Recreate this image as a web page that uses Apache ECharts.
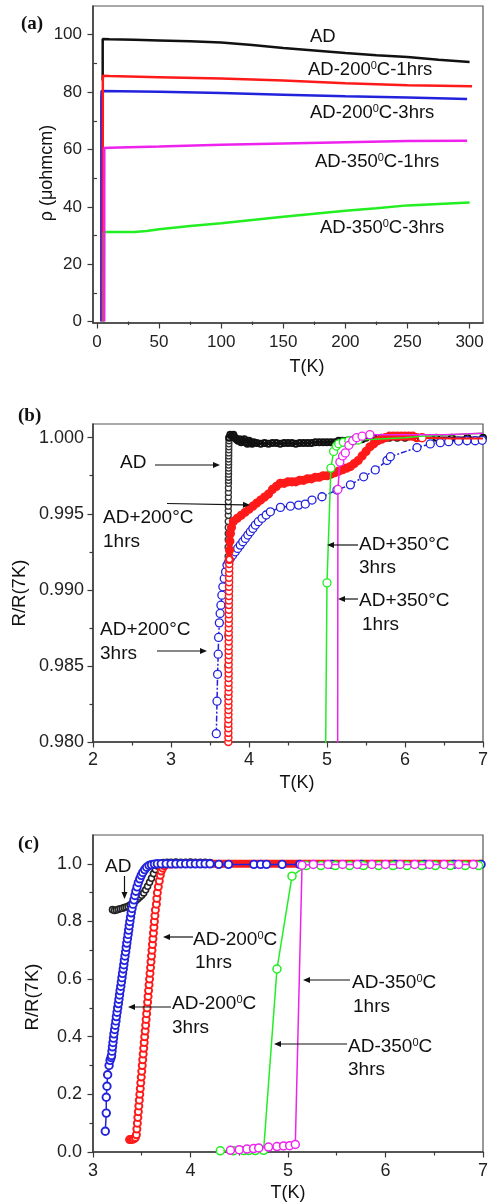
<!DOCTYPE html>
<html>
<head>
<meta charset="utf-8">
<script src="https://cdn.jsdelivr.net/npm/echarts@6/dist/echarts.min.js"></script>
<style>html,body{margin:0;padding:0;background:#fff}#c{width:491px;height:1203px}</style>
</head>
<body>
<div id="c"></div>
<script>
// ---------- Panel (a): rho vs T ----------
const aXTicks = [0, 50, 100, 150, 200, 250, 300];
const aXMinor = [25, 75, 125, 175, 225, 275];
const aYTicks = [0, 20, 40, 60, 80, 100];
const aYMinor = [10, 30, 50, 70, 90];
const a_AD = [[4.6,84],[4.6,98.5],[10,98.4],[30,98.2],[50,98.0],[75,97.7],[100,97.3],[125,96.4],[150,95.4],[175,94.5],[200,93.6],[225,92.8],[250,92.2],[275,91.3],[300,90.5]];
const a_200_3 = [[3.5,0],[3.5,78],[3.7,80.4],[5,80.5],[50,80.1],[100,79.7],[150,79.1],[200,78.5],[250,78.1],[298,77.6]];
const a_200_1 = [[4.6,0],[4.7,84],[4.8,85.7],[10,85.6],[50,85.2],[100,84.7],[150,84.0],[200,83.1],[250,82.4],[302,82.0]];
const a_350_3 = [[5.5,0],[5.6,31.2],[10,31.2],[30,31.2],[40,31.6],[50,32.2],[75,33.3],[100,34.3],[125,35.4],[150,36.5],[175,37.6],[200,38.6],[225,39.5],[250,40.5],[275,41.0],[300,41.5]];
const a_350_1 = [[5.8,0],[5.9,60.5],[10,60.6],[50,61.0],[100,61.6],[150,62.1],[200,62.5],[250,62.9],[298,63.0]];

// ---------- Panel (b): R/R(7K) zoom ----------
const bXTicks = [2, 3, 4, 5, 6, 7];
const bXMinor = [2.5, 3.5, 4.5, 5.5, 6.5];
const bYTicks = [0.980, 0.985, 0.990, 0.995, 1.000];
const bYMinor = [0.9825, 0.9875, 0.9925, 0.9975];
const b_AD_col = [[3.730,0.9810],[3.730,0.9830],[3.730,0.9850],[3.730,0.9870],[3.730,0.9890],[3.731,0.9905],[3.731,0.9915],[3.732,0.9922],[3.732,0.9928],[3.733,0.9933],[3.733,0.9937],[3.734,0.9941],[3.734,0.9945],[3.734,0.9949],[3.735,0.9952],[3.735,0.9955],[3.735,0.9958],[3.736,0.9961],[3.736,0.9964],[3.736,0.9967],[3.737,0.9970],[3.737,0.9972],[3.737,0.9974],[3.738,0.9976],[3.738,0.9978],[3.738,0.9980],[3.739,0.9982],[3.739,0.9984],[3.739,0.9986],[3.740,0.9988],[3.740,0.9990],[3.741,0.9992],[3.741,0.9994],[3.742,0.9996],[3.743,0.9998],[3.745,1.0000]];
const b_AD = [[3.745,1.0000],[3.76,1.0002],[3.78,1.0001],[3.80,1.0002],[3.82,1.0000],[3.84,0.9999],[3.86,0.9998],[3.88,0.9999],[3.90,0.9997],[3.92,0.9998],[3.94,0.9999],[3.96,0.9997],[3.98,0.9996],[4.00,0.9998],[4.02,0.9997],[4.04,0.9996],[4.06,0.9997],
  [4.10,0.99965],[4.15,0.9996],[4.20,0.99965],[4.25,0.9996],[4.30,0.99965],[4.35,0.99965],[4.40,0.9996],[4.45,0.99965],[4.50,0.99965],[4.55,0.99965],[4.60,0.9996],[4.65,0.99965],[4.70,0.99965],[4.75,0.99965],[4.80,0.99965],[4.85,0.9997],[4.90,0.9997],[4.95,0.9997],[5.00,0.9997],[5.05,0.9997],[5.10,0.9997],[5.15,0.9998],[5.20,0.9998],[5.25,0.9998],[5.30,0.9998],[5.35,0.9999],[5.40,0.9999],[5.45,0.9999],[5.50,1.0000],[5.60,1.0000],[5.70,1.0000],[5.80,1.0000],[5.90,1.0000],[6.00,1.0000],[6.20,1.0000],[6.40,1.0000],[6.60,1.0000],[6.80,1.0000],[7.00,1.0000]];
const b_200_3 = [[3.581,0.98055],[3.590,0.98268],[3.597,0.98445],[3.605,0.98577],[3.610,0.98687],[3.620,0.98783],[3.630,0.98845],[3.640,0.98899],[3.652,0.98965],[3.665,0.9902],[3.683,0.99075],[3.700,0.99118],[3.718,0.99163],[3.740,0.99185],[3.760,0.99206],[3.790,0.99228],[3.824,0.9925],[3.855,0.99272],[3.888,0.99294],[3.920,0.99316],[3.953,0.99338],[3.985,0.9936],[4.017,0.99382],[4.050,0.99404],[4.081,0.99426],[4.120,0.99448],[4.167,0.9947],[4.220,0.99492],[4.274,0.99513],[4.403,0.99542],[4.531,0.9955],[4.636,0.99557],[4.722,0.99564],[4.808,0.9959],[4.936,0.99612],[5.128,0.99656],[5.300,0.9969],[5.470,0.99743],[5.619,0.99788],[5.769,0.99850],[5.812,0.99875],[6.154,0.99935],[6.324,0.99959],[6.453,0.99967],[6.560,0.99974],[6.687,0.99978],[6.795,0.9998],[6.900,0.9998],[6.990,0.99983]];
const b_200_1_col = [[3.735,0.9800],[3.736,0.9803],[3.735,0.9806],[3.736,0.9809],[3.735,0.9812],[3.736,0.9815],[3.736,0.9818],[3.737,0.9821],[3.736,0.9824],[3.737,0.9827],[3.737,0.9830],[3.738,0.9833],[3.737,0.9836],[3.738,0.9839],[3.738,0.9842],[3.739,0.9845],[3.738,0.9848],[3.739,0.9851],[3.739,0.9854],[3.740,0.9857],[3.739,0.9860],[3.740,0.9863],[3.740,0.9866],[3.741,0.9869],[3.740,0.9872],[3.741,0.9875],[3.741,0.9878],[3.742,0.9881],[3.741,0.9884],[3.742,0.9887],[3.742,0.9890],[3.743,0.9893],[3.743,0.9896],[3.744,0.9899],[3.744,0.9902],[3.745,0.9905],[3.745,0.9908],[3.746,0.9911],[3.746,0.9914],[3.747,0.9917],[3.748,0.9920]];
const b_200_1 = [[3.748,0.9920],[3.750,0.9926],[3.755,0.9932],[3.762,0.9937],[3.775,0.9941],[3.80,0.9945],
  [3.85,0.9947],[3.90,0.9949],[3.95,0.9951],[4.00,0.9953],[4.05,0.9955],[4.10,0.9957],[4.15,0.9959],[4.20,0.9961],[4.25,0.9963],[4.30,0.9966],[4.35,0.9968],[4.40,0.9970],[4.45,0.9970],[4.50,0.9971],[4.55,0.9971],[4.60,0.9971],[4.65,0.9972],[4.70,0.9972],[4.75,0.9973],[4.80,0.9973],[4.85,0.9974],[4.90,0.9974],[4.95,0.9975],[5.00,0.9975],[5.05,0.9976],[5.10,0.9977],[5.15,0.9978],[5.20,0.9979],[5.25,0.9980],[5.30,0.9981],[5.35,0.9983],[5.40,0.9985],[5.45,0.9988],[5.50,0.9991],[5.55,0.9994],[5.60,0.9996],[5.65,0.9998],[5.70,0.9999],[5.75,1.0000],[5.80,1.0001],[5.85,1.0001],[5.90,1.0001],[5.95,1.0001],[6.00,1.0001],[6.05,1.0001],[6.10,1.0001],[6.15,1.0000]];
const b_200_1_end = [[6.22,1.0000]];
const b_200_1_tail = [[6.15,1.0000],[6.22,1.0000],[6.6,0.99995],[7.0,0.99995]];
const b_350_3 = [[4.975,0.975],[5.0,0.99046],[5.05,0.9980],[5.085,0.9991],[5.12,0.99945],[5.15,0.9996],[5.21,0.9997],[5.28,0.9998],[5.34,0.9998],[5.40,0.99985]];
const b_350_3_tail = [[5.40,0.99985],[5.6,0.9999],[5.8,0.99995],[6.0,1.0],[6.2,1.0001],[6.4,1.00015],[6.6,1.0002],[6.8,1.00025],[7.0,1.0003]];
const b_350_1 = [[5.136,0.975],[5.14,0.9966],[5.165,0.9984],[5.20,0.9988],[5.235,0.9990],[5.28,0.9995],[5.33,0.9998],[5.38,1.0000],[5.45,1.0001],[5.55,1.0002]];
const b_350_1_tail = [[5.55,1.0002],[6.0,1.0002],[6.5,1.0002],[7.0,1.0003]];

// ---------- Panel (c): R/R(7K) full ----------
const cXTicks = [3, 4, 5, 6, 7];
const cXMinor = [3.5, 4.5, 5.5, 6.5];
const cYTicks = [0, 0.2, 0.4, 0.6, 0.8, 1.0];
const cYMinor = [0.1, 0.3, 0.5, 0.7, 0.9];
const c_AD = [[3.20,0.841],[3.22,0.838],[3.24,0.840],[3.26,0.842],[3.28,0.844],[3.30,0.846],[3.32,0.848],[3.34,0.850],[3.36,0.853],[3.38,0.857],[3.40,0.862],[3.42,0.867],[3.44,0.873],[3.46,0.879],[3.48,0.885],[3.50,0.891],[3.52,0.899],[3.54,0.910],[3.56,0.922],[3.58,0.936],[3.60,0.950],[3.62,0.966],[3.64,0.980],[3.66,0.992],[3.68,1.000],[3.72,1.004],[3.76,1.005],[3.80,1.005],[3.85,1.006],[3.90,1.005],[3.95,1.005],[4.00,1.006],[4.05,1.005],[4.10,1.005],[4.15,1.005],[4.20,1.004]];
const c_200_1 = [[3.375,0.043],[3.39,0.043],[3.405,0.044],[3.42,0.046],[3.435,0.050],[3.445,0.060],[3.45,0.080],[3.455,0.100],[3.46,0.120],[3.465,0.140],[3.47,0.160],[3.475,0.180],[3.48,0.200],[3.485,0.220],[3.49,0.240],[3.495,0.260],[3.50,0.280],[3.505,0.300],[3.51,0.320],[3.515,0.340],[3.52,0.360],[3.525,0.380],[3.53,0.400],[3.535,0.420],[3.54,0.440],[3.545,0.460],[3.55,0.480],[3.555,0.500],[3.56,0.520],[3.565,0.540],[3.57,0.560],[3.575,0.580],[3.58,0.600],[3.585,0.620],[3.59,0.640],[3.595,0.660],[3.60,0.680],[3.605,0.700],[3.61,0.720],[3.615,0.740],[3.62,0.760],[3.625,0.780],[3.63,0.800],[3.635,0.820],[3.64,0.840],[3.65,0.860],[3.655,0.880],[3.66,0.900],[3.67,0.920],[3.68,0.940],[3.69,0.960],[3.70,0.975],[3.715,0.985],[3.73,0.993],[3.75,0.998]];
const c_200_1_plateau = [[3.75,0.998],[4.0,1.0],[4.5,1.0],[5.0,1.0],[5.5,1.0],[6.0,1.0],[6.5,1.0],[7.0,1.0]];
const c_200_3 = [[3.126,0.072],[3.136,0.135],[3.136,0.190],[3.143,0.228],[3.150,0.268],[3.165,0.300],[3.175,0.318],[3.185,0.328],[3.19,0.335],[3.195,0.350],[3.20,0.365],[3.205,0.380],[3.21,0.395],[3.215,0.410],[3.222,0.425],[3.228,0.440],[3.235,0.455],[3.24,0.470],[3.247,0.485],[3.253,0.500],[3.26,0.515],[3.266,0.530],[3.272,0.545],[3.278,0.560],[3.285,0.575],[3.291,0.590],[3.297,0.605],[3.303,0.620],[3.31,0.635],[3.316,0.650],[3.322,0.665],[3.328,0.680],[3.335,0.695],[3.341,0.710],[3.347,0.725],[3.353,0.740],[3.36,0.755],[3.366,0.770],[3.372,0.785],[3.378,0.800],[3.385,0.815],[3.392,0.830],[3.40,0.845],[3.41,0.860],[3.42,0.875],[3.43,0.890],[3.44,0.905],[3.452,0.920],[3.465,0.935],[3.48,0.948],[3.495,0.960],[3.51,0.970],[3.53,0.980],[3.55,0.988],[3.575,0.994],[3.60,0.997],[3.63,0.999],[3.66,1.0],[3.70,1.0],[3.75,1.0],[3.80,1.0],[3.85,1.0],[3.90,1.0],[3.95,1.0],[4.00,1.0],[4.05,1.0],[4.10,1.0],[4.15,1.0],[4.20,1.0],[4.29,0.998],[4.39,0.998],[4.65,0.998],[4.72,0.998],[4.78,0.998],[4.94,0.998],[5.12,0.998],[5.45,0.998],[5.75,0.998],[6.10,0.998],[6.40,0.998],[6.70,0.998],[6.98,0.998]];
const c_350_3 = [[4.306,0.004],[4.44,0.004],[4.545,0.005],[4.596,0.005],[4.665,0.005],[4.75,0.006],[4.887,0.635],[5.041,0.957],[5.188,0.994],[5.338,0.994],[5.485,0.994],[5.632,0.994],[5.775,0.994],[5.929,0.994],[6.077,0.994],[6.22,0.994],[6.374,0.994],[6.511,0.994],[6.665,0.994],[6.818,0.994],[6.955,0.994]];
const c_350_1 = [[4.41,0.006],[4.50,0.008],[4.58,0.010],[4.647,0.012],[4.70,0.014],[4.80,0.017],[4.887,0.019],[4.955,0.021],[5.017,0.022],[5.075,0.026],[5.144,0.995],[5.26,0.998],[5.41,0.998],[5.56,0.998],[5.71,0.998],[5.86,0.998],[6.00,0.998],[6.15,0.998],[6.30,0.998],[6.45,0.998],[6.60,0.998],[6.75,0.998],[6.90,0.998]];

// ---------- build ----------
const FONT = '"Liberation Sans", Arial, sans-serif';
const AX = '#3a3a3a';
const C = {black:'#111111', red:'#ff1a1a', blue:'#2222dd', green:'#22ee22', pink:'#ee22ee'};
const CLEAR = 'rgba(255,255,255,0)';

function axisPair(kind, gi, min, max, major, minor, fmt, fs, margin) {
  const pos = kind === 'x' ? 'bottom' : 'left';
  return [{
    type:'value', gridIndex:gi, min:min, max:max, position:pos,
    axisLine:{show:true, onZero:false, lineStyle:{color:AX, width:1.5}},
    axisTick:{show:true, inside:false, length:5.5, customValues:major, lineStyle:{color:AX, width:1.2}},
    axisLabel:{show:true, customValues:major, formatter:fmt, fontSize:fs, fontFamily:FONT, color:'#222', margin:margin},
    splitLine:{show:false}
  },{
    type:'value', gridIndex:gi, min:min, max:max, position:pos,
    axisLine:{show:false},
    axisTick:{show:true, inside:false, length:3.5, customValues:minor, lineStyle:{color:AX, width:1.2}},
    axisLabel:{show:false},
    splitLine:{show:false}
  }];
}
const f0 = v => String(Math.round(v));
const f3 = v => v.toFixed(3);
const f1 = v => v.toFixed(1);

const xAxes = [].concat(
  axisPair('x',0,-3.2,310.8,aXTicks,aXMinor,f0,17,11),
  axisPair('x',1,2,7,bXTicks,bXMinor,f0,18,9),
  axisPair('x',2,3,7,cXTicks,cXMinor,f0,18,10));
const yAxes = [].concat(
  axisPair('y',0,-0.5,110,aYTicks,aYMinor,f0,17,11),
  axisPair('y',1,0.980,1.0009,bYTicks,bYMinor,f3,18,9),
  axisPair('y',2,0,1.1,cYTicks,cYMinor,f1,18,11));

function lineS(ai, data, color, width, z) {
  return {type:'line', xAxisIndex:ai, yAxisIndex:ai, data:data, symbol:'none', silent:true,
    lineStyle:{color:color, width:width}, z:z||2, animation:false, emphasis:{disabled:true}};
}
function ptS(ai, data, color, size, bw, lw, ltype, z, fill) {
  return {type:'line', xAxisIndex:ai, yAxisIndex:ai, data:data, symbol:'circle', symbolSize:size, silent:true,
    itemStyle:{color:fill||'#ffffff', borderColor:color, borderWidth:bw},
    lineStyle:{color:color, width:lw, type:ltype||'solid'}, z:z||2, animation:false, emphasis:{disabled:true}};
}

const series = [
  lineS(0, a_AD, C.black, 2.5, 2),
  lineS(0, a_200_3, C.blue, 2.5, 3),
  lineS(0, a_200_1, C.red, 2.5, 4),
  lineS(0, a_350_3, C.green, 2.5, 5),
  lineS(0, a_350_1, C.pink, 2.5, 6),

  ptS(2, b_AD_col, '#333333', 6, 1.3, 1.2, 'solid', 2),
  ptS(2, b_AD, C.black, 6, 2, 2.5, 'solid', 2, CLEAR),
  ptS(2, b_200_3, C.blue, 8, 1.3, 1.5, [6,2,2,2], 3),
  lineS(2, b_200_1_tail, C.red, 2, 4),
  ptS(2, b_200_1_col, C.red, 7, 1.5, 1.2, 'solid', 4),
  ptS(2, b_200_1, C.red, 7, 2.2, 6, 'solid', 4, CLEAR),
  ptS(2, b_200_1_end, C.red, 8, 1.5, 1, 'solid', 4),
  lineS(2, b_350_3_tail, C.green, 1.5, 5),
  ptS(2, b_350_3, C.green, 8, 1.3, 1.5, 'solid', 5),
  lineS(2, b_350_1_tail, C.pink, 1.5, 6),
  ptS(2, b_350_1, C.pink, 8, 1.3, 1.5, 'solid', 6),

  ptS(4, c_AD, '#222222', 6, 1.6, 1.5, 'solid', 2),
  lineS(4, c_200_1_plateau, C.red, 8, 3),
  ptS(4, c_200_1, C.red, 7, 2, 1.5, 'solid', 3),
  ptS(4, c_200_3, C.blue, 7.5, 1.9, 1.5, 'solid', 4),
  ptS(4, c_350_3, C.green, 8, 1.5, 1.5, 'solid', 5),
  ptS(4, c_350_1, C.pink, 8, 1.5, 1.5, 'solid', 6)
];

// ---------- annotations ----------
const G = [];
const RICH = {s:{font:'11px "Liberation Sans", Arial, sans-serif', verticalAlign:'top'}};
function txt(x, y, text, size, opt) {
  opt = opt || {};
  G.push({type:'text', x:x, y:y, rotation:opt.rot||0, z:100, silent:true,
    style:{text:text, font:(opt.weight||'normal')+' '+size+'px '+(opt.family||FONT), fill:'#111',
      align:opt.align||'left', verticalAlign:'middle', rich:RICH}});
}
function arrow(x1, y1, x2, y2) {
  const a = Math.atan2(y2-y1, x2-x1), L = 7, W = 3;
  const bx = x2 - L*Math.cos(a), by = y2 - L*Math.sin(a);
  G.push({type:'line', z:100, silent:true, shape:{x1:x1,y1:y1,x2:bx,y2:by}, style:{stroke:'#111', lineWidth:1.2}});
  G.push({type:'polygon', z:100, silent:true, shape:{points:[[x2,y2],[bx-W*Math.sin(a),by+W*Math.cos(a)],[bx+W*Math.sin(a),by-W*Math.cos(a)]]}, style:{fill:'#111'}});
}
const SERIF = '"Liberation Serif", "Times New Roman", serif';
// panel labels
txt(21, 24, '(a)', 19, {weight:'bold', family:SERIF});
txt(18, 416, '(b)', 19, {weight:'bold', family:SERIF});
txt(18, 844, '(c)', 19, {weight:'bold', family:SERIF});
// axis names
txt(47, 173, 'ρ (μohmcm)', 18, {rot:Math.PI/2, align:'center'});
txt(307, 367, 'T(K)', 18, {align:'center'});
txt(20, 593, 'R/R(7K)', 18.5, {rot:Math.PI/2, align:'center'});
txt(297, 783, 'T(K)', 18, {align:'center'});
txt(33, 997, 'R/R(7K)', 18.5, {rot:Math.PI/2, align:'center'});
txt(288, 1193, 'T(K)', 18, {align:'center'});
// (a)
txt(310, 37, 'AD', 18.5);
txt(308, 70, 'AD-200{s|0}C-1hrs', 18.5);
txt(310, 113, 'AD-200{s|0}C-3hrs', 18.5);
txt(315, 162, 'AD-350{s|0}C-1hrs', 18.5);
txt(320, 228, 'AD-350{s|0}C-3hrs', 18.5);
// (b)
txt(120, 463, 'AD', 19); arrow(155, 465, 220, 465);
txt(103, 518, 'AD+200°C', 19); txt(103, 542, '1hrs', 19); arrow(167, 503.5, 250, 505);
txt(100, 630, 'AD+200°C', 19); txt(100, 654, '3hrs', 19); arrow(157, 651, 207, 651);
txt(359, 545, 'AD+350°C', 19); txt(359, 568, '3hrs', 19); arrow(358, 545, 327, 545);
txt(359, 601, 'AD+350°C', 19); txt(362, 625, '1hrs', 19); arrow(358, 599, 338, 599);
// (c)
txt(105, 867, 'AD', 19); arrow(124.5, 876, 124.5, 899);
txt(193, 940, 'AD-200{s|0}C', 19); txt(195, 963, '1hrs', 19); arrow(193, 937, 163, 937);
txt(172, 1004, 'AD-200{s|0}C', 19); txt(172, 1028, '3hrs', 19); arrow(171, 1007, 128, 1007);
txt(352, 983, 'AD-350{s|0}C', 19); txt(353, 1007, '1hrs', 19); arrow(350, 980, 303, 980);
txt(348, 1047, 'AD-350{s|0}C', 19); txt(348, 1070, '3hrs', 19); arrow(347, 1044, 274, 1044);

const gridStyle = {show:true, borderColor:'#555', borderWidth:1.2, backgroundColor:'transparent', containLabel:false};
const chart = echarts.init(document.getElementById('c'), null, {renderer:'canvas'});
chart.setOption({
  animation:false,
  backgroundColor:'#ffffff',
  grid:[
    Object.assign({left:93, top:6, width:390, height:317}, gridStyle),
    Object.assign({left:93, top:424, width:390, height:318}, gridStyle),
    Object.assign({left:93, top:835, width:390, height:317}, gridStyle)
  ],
  xAxis:xAxes,
  yAxis:yAxes,
  series:series,
  graphic:{elements:G}
});
</script>
</body>
</html>
